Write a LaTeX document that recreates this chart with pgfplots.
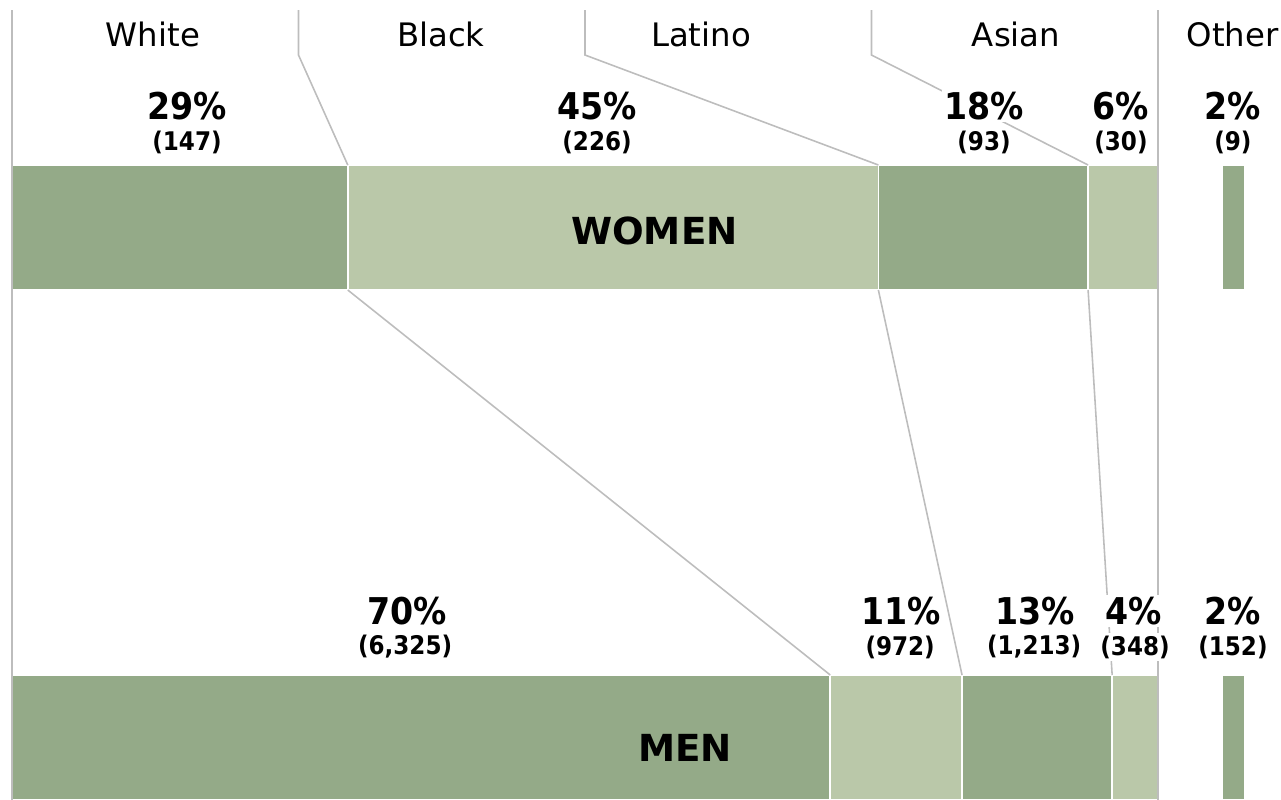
\documentclass[border=0pt]{standalone}
\usepackage{pgfplots}
\pgfplotsset{compat=1.18}
\usepackage{fontspec}
\setmainfont{DejaVu Sans}
\newfontfamily\cond{DejaVu Sans Condensed}
\definecolor{dk}{HTML}{94AA88}
\definecolor{lt}{HTML}{BAC8A9}
\definecolor{ln}{HTML}{BDBDBD}
\pgfplotsset{
  base/.style={at={(0,0)}, anchor=south west, scale only axis,
    width=12.81cm, height=8cm, xmin=-1.047, xmax=110.733,
    ymin=0, ymax=800, y dir=reverse, hide axis, clip=false},
}
\tikzset{
  pct/.style={font=\cond\bfseries\fontsize{10.5}{12}\selectfont, fill=white, inner sep=0.6pt},
  cnt/.style={font=\cond\bfseries\fontsize{7.3}{9}\selectfont, fill=white, inner sep=0.6pt},
  hdr/.style={font=\fontsize{9.2}{11}\selectfont},
}
\begin{document}
\begin{tikzpicture}
\useasboundingbox (0,0) rectangle (12.81,8);
\clip (0,0) rectangle (12.81,8);
% bars: widths as shares of the four-group total; spacer then "Other"
\begin{axis}[base, xbar stacked, bar width=125]
\addplot[fill=dk, draw=white, line width=0.5pt] coordinates {(29.3,227.5) (71.4,737.5)}; % White
\addplot[fill=lt, draw=white, line width=0.5pt] coordinates {(46.3,227.5) (11.5,737.5)}; % Black
\addplot[fill=dk, draw=white, line width=0.5pt] coordinates {(18.3,227.5) (13.1,737.5)}; % Latino
\addplot[fill=lt, draw=white, line width=0.5pt] coordinates {(6.1,227.5) (4.0,737.5)};   % Asian
\addplot[fill=none, draw=none] coordinates {(5.6,227.5) (5.6,737.5)};                    % gap
\addplot[fill=dk, draw=white, line width=0.5pt] coordinates {(2.0,227.5) (2.0,737.5)};   % Other
\end{axis}
% connectors and labels
\begin{axis}[base]
\addplot[ln, line width=0.45pt, mark=none] coordinates {(0,10) (0,800)};
\addplot[ln, line width=0.45pt, mark=none] coordinates {(100,10) (100,800)};
\addplot[ln, line width=0.45pt, mark=none] coordinates {(25,10) (25,55) (29.3,165)};
\addplot[ln, line width=0.45pt, mark=none] coordinates {(50,10) (50,55) (75.6,165)};
\addplot[ln, line width=0.45pt, mark=none] coordinates {(75,10) (75,55) (93.9,165)};
\addplot[ln, line width=0.45pt, mark=none] coordinates {(29.3,290) (71.4,675)};
\addplot[ln, line width=0.45pt, mark=none] coordinates {(75.6,290) (82.9,675)};
\addplot[ln, line width=0.45pt, mark=none] coordinates {(93.9,290) (96.0,675)};
% header
\node[hdr] at (axis cs:12.30,34) {White};
\node[hdr] at (axis cs:37.43,34) {Black};
\node[hdr] at (axis cs:60.12,34) {Latino};
\node[hdr] at (axis cs:87.61,34) {Asian};
\node[hdr, anchor=west, inner sep=0pt] at (axis cs:102.44,34) {Other};
% women labels
\node[pct] at (axis cs:15.27,106) {29\%};
\node[cnt] at (axis cs:15.27,142) {(147)};
\node[pct] at (axis cs:51.05,106) {45\%};
\node[cnt] at (axis cs:51.05,142) {(226)};
\node[pct] at (axis cs:84.82,106) {18\%};
\node[cnt] at (axis cs:84.82,142) {(93)};
\node[pct] at (axis cs:96.77,106) {6\%};
\node[cnt] at (axis cs:96.77,142) {(30)};
\node[pct] at (axis cs:106.54,106) {2\%};
\node[cnt] at (axis cs:106.54,142) {(9)};
% men labels
\node[pct] at (axis cs:34.47,611) {70\%};
\node[cnt] at (axis cs:34.30,647) {(6,325)};
\node[pct] at (axis cs:77.57,611) {11\%};
\node[cnt] at (axis cs:77.50,647) {(972)};
\node[pct] at (axis cs:89.27,611) {13\%};
\node[cnt] at (axis cs:89.20,647) {(1,213)};
\node[pct] at (axis cs:97.91,611) {4\%};
\node[cnt] at (axis cs:98.00,647) {(348)};
\node[pct] at (axis cs:106.54,611) {2\%};
\node[cnt] at (axis cs:106.54,647) {(152)};
% row names
\node[font=\bfseries\fontsize{10.6}{12}\selectfont] at (axis cs:56.06,231) {WOMEN};
\node[font=\bfseries\fontsize{10.6}{12}\selectfont] at (axis cs:58.73,748) {MEN};
\end{axis}
\end{tikzpicture}
\end{document}
